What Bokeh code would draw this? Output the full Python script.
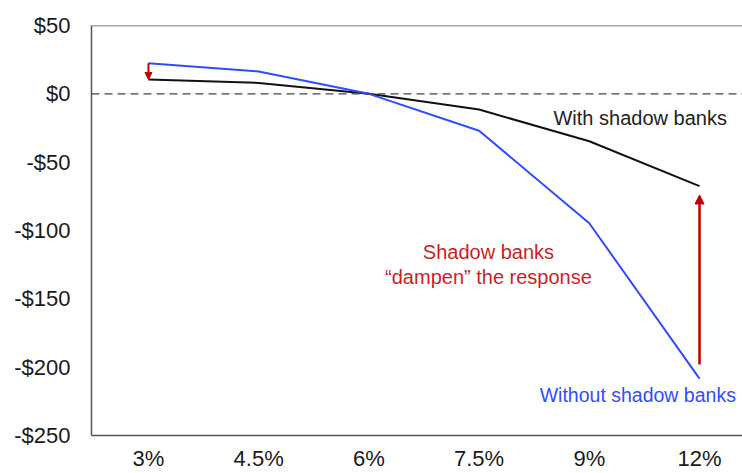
from bokeh.plotting import figure
from bokeh.models import Span, Arrow, NormalHead, Range1d, FixedTicker, ColumnDataSource
from bokeh.core.properties import value
from bokeh.embed import file_html
from bokeh.resources import INLINE

rates = ["3%", "4.5%", "6%", "7.5%", "9%", "12%"]
with_shadow = [10.5, 8.0, 0.0, -11.5, -34.7, -67.5]
without_shadow = [22.3, 16.4, 0.0, -27.0, -94.7, -208.4]
y_ticks = [50, 0, -50, -100, -150, -200, -250]
y_labels = ["$50", "$0", "-$50", "-$100", "-$150", "-$200", "-$250"]
big_arrow_from = -198
big_arrow_to = -74

xs = list(range(len(rates)))
FONT = "Liberation Sans"

p = figure(width=742, height=473, output_backend="svg", toolbar_location=None,
           x_range=Range1d(-0.517, 5.39), y_range=Range1d(-250, 50),
           min_border_left=91, min_border_right=0, min_border_top=25, min_border_bottom=30)
p.outline_line_color = None
p.xgrid.visible = False
p.ygrid.visible = False
p.background_fill_color = "white"
p.border_fill_color = "white"

for ax in (p.xaxis[0], p.yaxis[0]):
    ax.axis_line_color = "#555555"
    ax.axis_line_width = 1.5
    ax.major_tick_line_color = None
    ax.minor_tick_line_color = None
    ax.major_label_text_font = FONT
    ax.major_label_text_font_size = "22px"
    ax.major_label_text_color = "#1a1a1a"

p.xaxis.ticker = FixedTicker(ticks=xs)
p.xaxis.major_label_overrides = {i: r for i, r in enumerate(rates)}
p.xaxis.major_label_standoff = 4
p.yaxis.ticker = FixedTicker(ticks=y_ticks)
p.yaxis.major_label_overrides = {t: l for t, l in zip(y_ticks, y_labels)}
p.yaxis.major_label_standoff = 15

p.add_layout(Span(location=50, dimension="width", line_color="#555555", line_width=1.5))
p.add_layout(Span(location=0, dimension="width", line_color="#444444", line_width=1.2, line_dash="8 5"))

src = ColumnDataSource(dict(x=xs, w=with_shadow, wo=without_shadow))
p.line("x", "w", source=src, line_color="#111111", line_width=2)
p.line("x", "wo", source=src, line_color="#2f4dff", line_width=2)

red = "#c00000"
p.add_layout(Arrow(end=NormalHead(size=7, fill_color=red, line_color=red),
                   x_start=xs[0], y_start=without_shadow[0], x_end=xs[0], y_end=with_shadow[0],
                   line_color=red, line_width=2))
p.add_layout(Arrow(end=NormalHead(size=9, fill_color=red, line_color=red),
                   x_start=xs[-1], y_start=big_arrow_from, x_end=xs[-1], y_end=big_arrow_to,
                   line_color=red, line_width=2.5))

p.text(x=[3.675], y=[-17.9], text=["With shadow banks"], text_font=value(FONT),
       text_font_size="20px", text_color="#222222", text_baseline="middle", text_align="left")
p.text(x=[3.55], y=[-220], text=["Without shadow banks"], text_font=value(FONT),
       text_font_size="19.5px", text_color="#2f4dff", text_baseline="middle", text_align="left")
p.text(x=[3.085, 3.085], y=[-115.7, -134.0], text=["Shadow banks", "\u201cdampen\u201d the response"],
       text_font=value(FONT), text_font_size="20px", text_color="#cc1f1f",
       text_baseline="middle", text_align="center")

open("out.html", "w").write(file_html(p, INLINE))
